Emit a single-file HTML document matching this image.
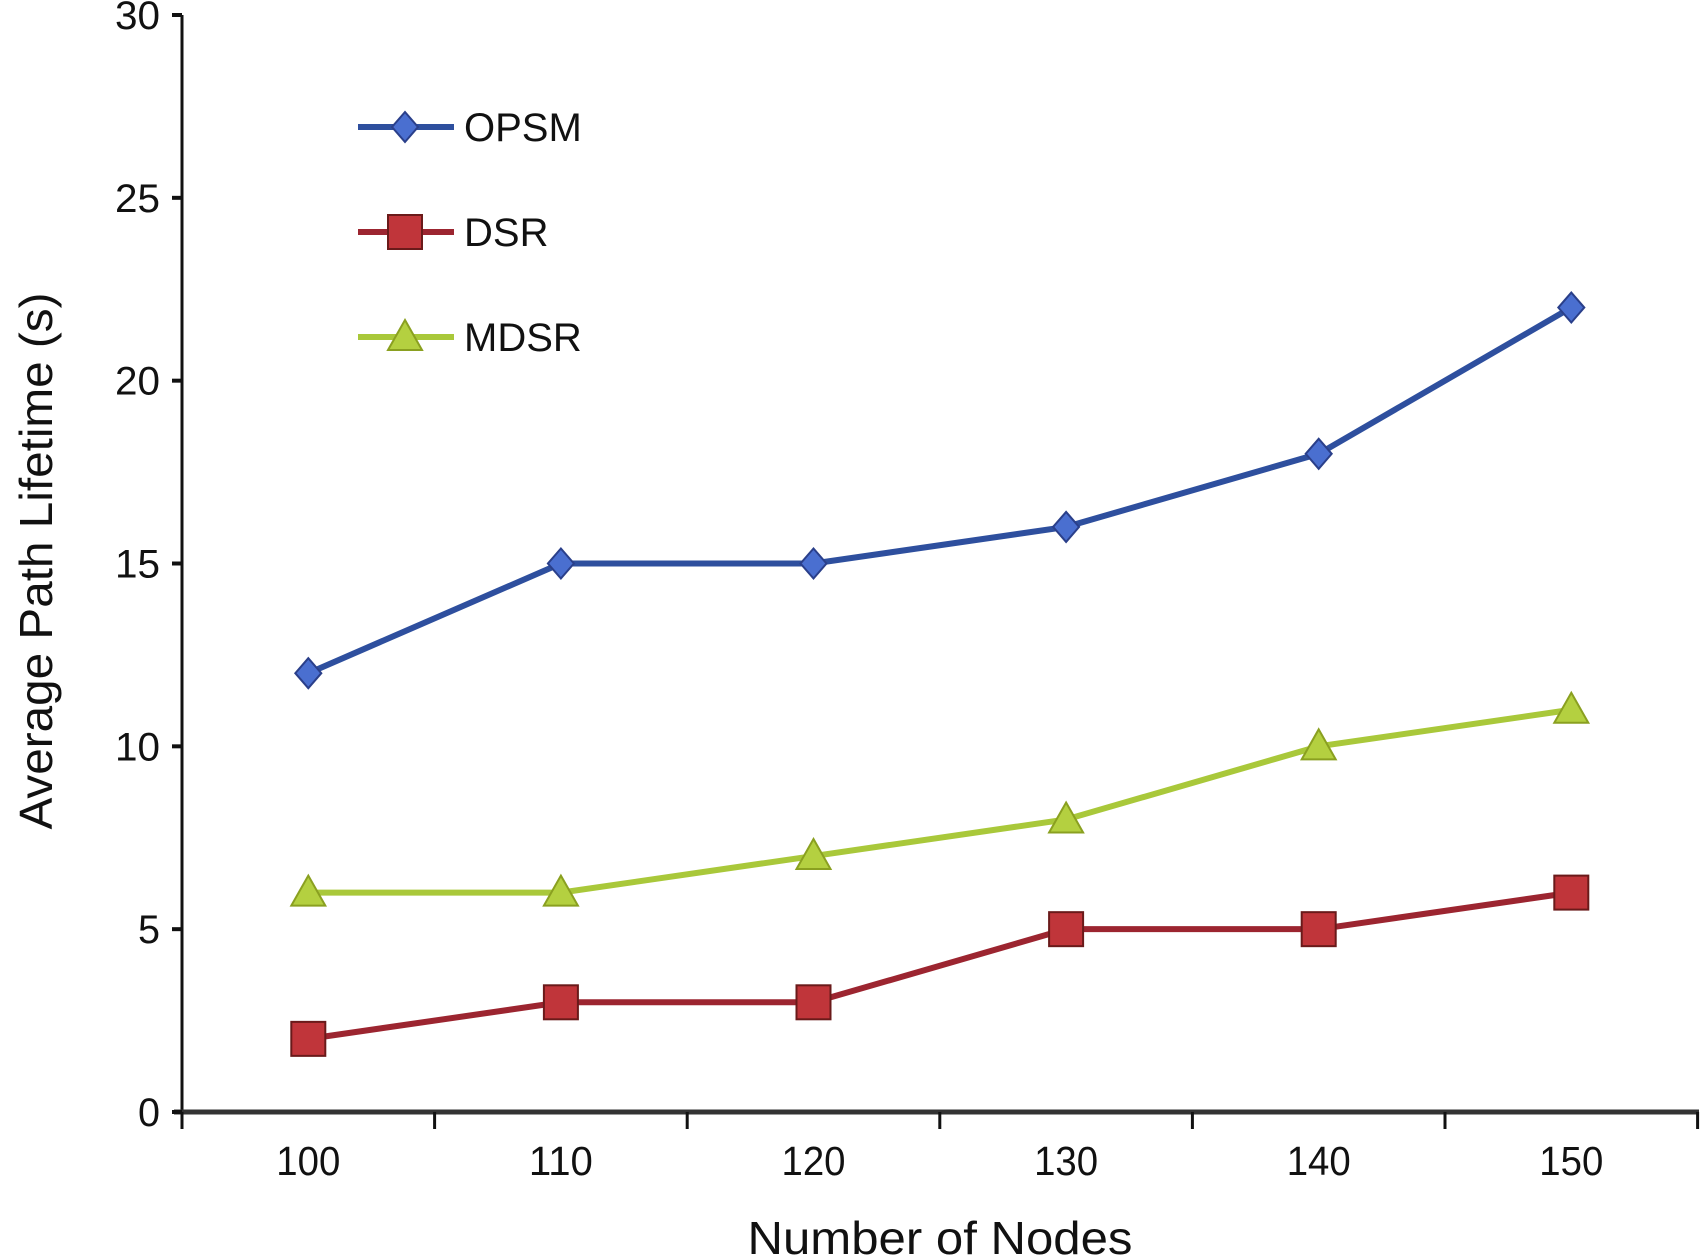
<!DOCTYPE html>
<html><head><meta charset="utf-8"><style>
html,body{margin:0;padding:0;background:#fff;}
svg{display:block;font-family:"Liberation Sans",sans-serif;}
</style></head><body>
<svg id="chart" width="1701" height="1257" viewBox="0 0 1701 1257"></svg>
<script>
const categories=[100,110,120,130,140,150];
const opsm=[12,15,15,16,18,22];
const dsr=[2,3,3,5,5,6];
const mdsr=[6,6,7,8,10,11];
const yTicks=[0,5,10,15,20,25,30];
const NS="http://www.w3.org/2000/svg";
const svg=document.getElementById('chart');
const x0=182,step=252.6,yTop=15,yBot=1112;
function xPos(i){return x0+step*(i+0.5);}
function yPos(v){return yBot-(v/30)*(yBot-yTop);}
function mk(tag,attrs,parent){const e=document.createElementNS(NS,tag);for(const k in attrs)e.setAttribute(k,attrs[k]);(parent||svg).appendChild(e);return e;}
let a=mk('line',{x1:x0,y1:yTop,x2:x0,y2:yBot,stroke:'#111','stroke-width':3});


a=mk('line',{x1:x0-8,y1:yBot,x2:1699,y2:yBot,stroke:'#333','stroke-width':5});


yTicks.forEach(v=>{
  const y=yPos(v);
  const t=mk('line',{x1:x0-10,y1:y,x2:x0,y2:y,stroke:'#111','stroke-width':4});
  
  
  const l=mk('text',{x:x0-22,y:y+14,'text-anchor':'end','font-size':40,fill:'#111',textLength:v>=10?45:22,lengthAdjust:'spacingAndGlyphs'});
  l.textContent=v;
  
  
});
for(let i=0;i<=categories.length;i++){
  const x=x0+step*i;
  const t=mk('line',{x1:x,y1:yBot,x2:x,y2:yBot+17,stroke:'#111','stroke-width':3});
  
  
}
categories.forEach((c,i)=>{
  const l=mk('text',{x:xPos(i),y:1175,'text-anchor':'middle','font-size':41,fill:'#111',textLength:64,lengthAdjust:'spacingAndGlyphs'});
  l.textContent=c;
  
  
});
let tt=mk('text',{x:940,y:1254,'text-anchor':'middle','font-size':46,fill:'#111',textLength:385,lengthAdjust:'spacingAndGlyphs'});
tt.textContent='Number of Nodes';


tt=mk('text',{x:0,y:0,'text-anchor':'middle','font-size':46,fill:'#111',transform:'translate(52,561) rotate(-90)',textLength:537,lengthAdjust:'spacingAndGlyphs'});
tt.textContent='Average Path Lifetime (s)';


function marker(type,x,y,color,g){
  if(type==='diamond')return mk('polygon',{points:`${x},${y-15} ${x+13},${y} ${x},${y+15} ${x-13},${y}`,fill:color,stroke:'#2a3f8a','stroke-width':2},g);
  if(type==='square')return mk('rect',{x:x-17,y:y-17,width:34,height:34,fill:color,stroke:'#6a1a1a','stroke-width':2},g);
  return mk('polygon',{points:`${x},${y-17} ${x+17},${y+13} ${x-17},${y+13}`,fill:color,stroke:'#8aa020','stroke-width':2},g);
}
const series=[
  {name:'OPSM',data:opsm,line:'#2e4f9e',fill:'#4a6fd0',type:'diamond',ly:127},
  {name:'DSR',data:dsr,line:'#9c2530',fill:'#c0353a',type:'square',ly:232},
  {name:'MDSR',data:mdsr,line:'#a9c83a',fill:'#b4d040',type:'triangle',ly:337}
];
series.forEach(s=>{
  const g=mk('g',{});
  
  
  const pts=s.data.map((v,i)=>xPos(i)+','+yPos(v)).join(' ');
  const pl=mk('polyline',{points:pts,fill:'none',stroke:s.line,'stroke-width':6},g);
  
  
  s.data.forEach((v,i)=>{
    const m=marker(s.type,xPos(i),yPos(v),s.fill,g);
    
    
  });
  const lg=mk('g',{});
  
  
  mk('line',{x1:358,y1:s.ly,x2:454,y2:s.ly,stroke:s.line,'stroke-width':6},lg);
  marker(s.type,405,s.ly,s.fill,lg);
  const t=mk('text',{x:464,y:s.ly+14,'font-size':40,fill:'#111'},lg);
  t.textContent=s.name;
});
</script>
</body></html>
